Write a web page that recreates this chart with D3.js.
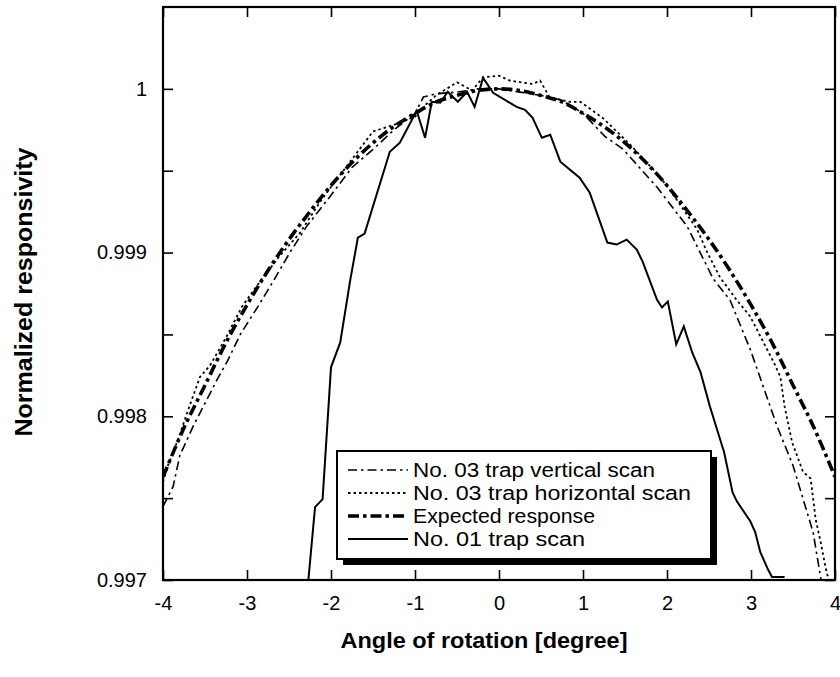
<!DOCTYPE html>
<html><head><meta charset="utf-8">
<script src="https://cdn.jsdelivr.net/npm/d3@7"></script>
<style>body{margin:0;background:#fff}svg{display:block}</style>
</head><body>
<svg id="c" width="840" height="677"></svg>
<script>
const xTicks = [-4,-3,-2,-1,0,1,2,3,4];
const xLabels = ["-4","-3","-2","-1","0","1","2","3","4"];
const yTicks = [0.997,0.9975,0.998,0.9985,0.999,0.9995,1.0];
const yLabels = ["0.997","","0.998","","0.999","","1"];
const seriesNames = ["No. 03 trap vertical scan","No. 03 trap horizontal scan","Expected response","No. 01 trap scan"];

const vertX = [-4.0,-3.88,-3.8,-3.64,-3.52,-3.35,-3.23,-3.08,-2.87,-2.67,-2.49,-2.29,-2.0,-1.75,-1.5,-1.25,-1.0,-0.9,-0.75,-0.5,-0.25,0,0.25,0.5,0.75,1.0,1.26,1.48,1.88,2.15,2.24,2.55,2.75,2.99,3.31,3.5,3.74,3.85];
const vertY = [0.99745,0.99757,0.99776,0.99794,0.99806,0.99823,0.99834,0.9985,0.99867,0.99884,0.999,0.99916,0.99935,0.99952,0.99963,0.99975,0.99985,0.99995,0.99997,0.99998,1.0,1.0,0.99998,0.99996,0.99993,0.99985,0.99971,0.99963,0.9994,0.99922,0.99916,0.99884,0.99871,0.99841,0.99794,0.9977,0.99729,0.99695];

const horX = [-4.0,-3.94,-3.82,-3.7,-3.56,-3.44,-3.24,-3.06,-2.85,-2.61,-2.37,-2.13,-2.0,-1.75,-1.5,-1.25,-1.0,-0.88,-0.75,-0.5,-0.32,-0.19,0,0.13,0.4,0.49,0.6,0.85,0.97,1.08,1.24,1.56,1.76,1.92,2.12,2.36,2.48,2.63,2.83,2.99,3.15,3.27,3.35,3.4,3.49,3.62,3.71,3.77,3.83,3.89,3.95];
const horY = [0.9976,0.9977,0.99786,0.99804,0.99824,0.99831,0.99849,0.99867,0.99882,0.99898,0.99912,0.99931,0.9994,0.99957,0.99974,0.99978,0.99983,0.9999,0.99996,1.00004,0.99999,1.00007,1.00008,1.00005,1.00003,1.00005,0.99995,0.99992,0.99992,0.99988,0.99982,0.99966,0.99955,0.99946,0.99932,0.99914,0.999,0.99885,0.99871,0.99861,0.99845,0.99833,0.99824,0.99806,0.99784,0.99766,0.99762,0.99737,0.99723,0.99707,0.99695];

const expX = [-4,-3.75,-3.5,-3.25,-3,-2.75,-2.5,-2.25,-2,-1.75,-1.5,-1.25,-1,-0.75,-0.5,-0.25,0,0.25,0.5,0.75,1,1.25,1.5,1.75,2,2.25,2.5,2.75,3,3.25,3.5,3.75,4];
const expY = [0.99763,0.99793,0.99819,0.99845,0.99868,0.99889,0.99908,0.99925,0.99941,0.99955,0.99967,0.99977,0.99985,0.99992,0.99996,0.99999,1.0,0.99999,0.99996,0.99992,0.99985,0.99977,0.99967,0.99955,0.99941,0.99925,0.99908,0.99889,0.99868,0.99845,0.99819,0.99793,0.99763];

const no1X = [-2.28,-2.19,-2.1,-2.0,-1.89,-1.77,-1.68,-1.6,-1.3,-1.18,-0.98,-0.88,-0.8,-0.7,-0.61,-0.49,-0.38,-0.29,-0.19,-0.07,0.13,0.21,0.31,0.4,0.51,0.61,0.73,0.96,1.08,1.29,1.4,1.52,1.64,1.71,1.88,1.94,2.01,2.11,2.2,2.3,2.4,2.51,2.68,2.78,2.83,2.99,3.05,3.11,3.2,3.25,3.4];
const no1Y = [0.99694,0.997445,0.997494,0.998299,0.998451,0.998835,0.999091,0.999116,0.999616,0.999671,0.999866,0.999701,0.999921,0.999915,0.999982,0.999921,0.999982,0.99989,1.000067,0.999976,0.999915,0.99989,0.999872,0.999823,0.999701,0.99972,0.999555,0.999457,0.999366,0.999061,0.999049,0.999079,0.999018,0.998945,0.998713,0.998665,0.998701,0.998439,0.998549,0.99839,0.998268,0.998061,0.99778,0.997537,0.997482,0.99736,0.997293,0.997171,0.997067,0.997018,0.997018];

const svg = d3.select("#c");
const L=163, R=835, T=7, B=580;
const x = d3.scaleLinear().domain([-4,4]).range([L,R]);
const y = d3.scaleLinear().domain([0.997,1.0005]).range([B,T]);
const font = "'Liberation Sans', Arial, Helvetica, sans-serif";

svg.append("defs").append("clipPath").attr("id","clip")
  .append("rect").attr("x",L).attr("y",T).attr("width",R-L).attr("height",B-T);

const series = [
  {xs:vertX, ys:vertY, dash:"9,4,2.5,4", w:1.6, curve:d3.curveLinear},
  {xs:horX, ys:horY, dash:"2.5,3", w:1.8, curve:d3.curveLinear},
  {xs:expX, ys:expY, dash:"11,4,3.5,4", w:3.6, curve:d3.curveCatmullRom},
  {xs:no1X, ys:no1Y, dash:null, w:2, curve:d3.curveLinear}
];
const g = svg.append("g").attr("clip-path","url(#clip)");
series.forEach(s=>{
  const pts = s.xs.map((v,i)=>[v,s.ys[i]]);
  const line = d3.line().x(d=>x(d[0])).y(d=>y(d[1])).curve(s.curve);
  g.append("path").attr("d",line(pts)).attr("fill","none").attr("stroke","#000")
    .attr("stroke-width",s.w).attr("stroke-dasharray",s.dash);
});

// axes
const ax = (gen, tr)=> svg.append("g").attr("transform",tr).call(gen)
  .call(a=>{a.select(".domain").remove(); a.selectAll("line").attr("stroke","#000").attr("stroke-width",1.6);});
ax(d3.axisBottom(x).tickValues(xTicks).tickSize(-10).tickPadding(16).tickFormat((d,i)=>xLabels[i]), `translate(0,${B})`)
  .selectAll("text").attr("font-family",font).attr("font-size",20).attr("fill","#000");
ax(d3.axisTop(x).tickValues(xTicks).tickSize(-10).tickFormat(""), `translate(0,${T})`);
ax(d3.axisLeft(y).tickValues(yTicks).tickSize(-10).tickPadding(16).tickFormat((d,i)=>yLabels[i]), `translate(${L},0)`)
  .selectAll("text").attr("font-family",font).attr("font-size",20).attr("fill","#000");
ax(d3.axisRight(y).tickValues(yTicks).tickSize(-10).tickFormat(""), `translate(${R},0)`);

svg.append("rect").attr("x",L).attr("y",T).attr("width",R-L).attr("height",B-T)
  .attr("fill","none").attr("stroke","#000").attr("stroke-width",2.2);

// legend
const lg = {x:337,y:451,w:374,h:108};
svg.append("rect").attr("x",lg.x+6).attr("y",lg.y+6).attr("width",lg.w).attr("height",lg.h).attr("fill","#000");
svg.append("rect").attr("x",lg.x).attr("y",lg.y).attr("width",lg.w).attr("height",lg.h)
  .attr("fill","#fff").attr("stroke","#000").attr("stroke-width",2);
const legLens = [242,278,182,172];
seriesNames.forEach((nm,i)=>{
  const cy = 470 + i*23;
  const s = series[i];
  svg.append("line").attr("x1",348).attr("x2",408).attr("y1",cy).attr("y2",cy)
    .attr("stroke","#000").attr("stroke-width",s.w).attr("stroke-dasharray",s.dash);
  svg.append("text").attr("x",413).attr("y",cy+7).attr("font-family",font).attr("font-size",20)
    .attr("textLength",legLens[i]).attr("lengthAdjust","spacingAndGlyphs")
    .attr("fill","#000").text(nm);
});

// axis titles
svg.append("text").attr("x",484).attr("y",648).attr("text-anchor","middle")
  .attr("font-family",font).attr("font-weight","bold").attr("font-size",22)
  .attr("textLength",287).attr("lengthAdjust","spacingAndGlyphs").text("Angle of rotation [degree]");
svg.append("text").attr("transform","translate(32,292) rotate(-90)").attr("text-anchor","middle")
  .attr("font-family",font).attr("font-weight","bold").attr("font-size",24)
  .attr("textLength",289).attr("lengthAdjust","spacingAndGlyphs")
  .text("Normalized responsivity");
</script>
</body></html>
